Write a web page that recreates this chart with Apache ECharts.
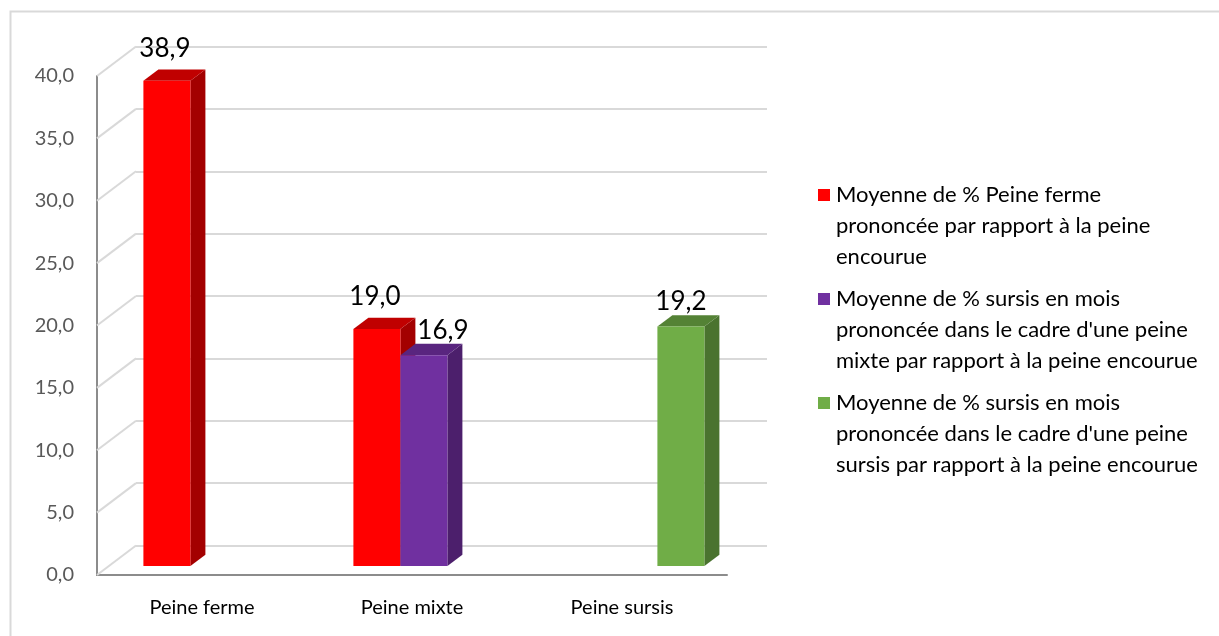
<!DOCTYPE html>
<html>
<head>
<meta charset="utf-8">
<script src="https://cdn.jsdelivr.net/npm/echarts@6/dist/echarts.min.js"></script>
<style>
html, body { margin: 0; padding: 0; background: #fff; }
#main { width: 1219px; height: 636px; }
</style>
</head>
<body>
<div id="main"></div>
<script>
// categories and values
var categories = ['Peine ferme', 'Peine mixte', 'Peine sursis'];
var seriesNames = [
    "Moyenne de % Peine ferme prononcée par rapport à la peine encourue",
    "Moyenne de % sursis en mois prononcée dans le cadre d'une peine mixte par rapport à la peine encourue",
    "Moyenne de % sursis en mois prononcée dans le cadre d'une peine sursis par rapport à la peine encourue"
];
// how the legend wraps each name
var legendLines = [
    ['Moyenne de % Peine ferme', 'prononcée par rapport à la peine', 'encourue'],
    ['Moyenne de % sursis en mois', "prononcée dans le cadre d'une peine", 'mixte par rapport à la peine encourue'],
    ['Moyenne de % sursis en mois', "prononcée dans le cadre d'une peine", 'sursis par rapport à la peine encourue']
];
var fermeValues = [38.9, 19.0, null];
var mixteValues = [null, 16.9, null];
var sursisValues = [null, null, 19.2];
var yTicks = [0, 5, 10, 15, 20, 25, 30, 35, 40];

var FONT = 'Lato, "Open Sans", sans-serif';
var DEPTH_DX = 39, DEPTH_DY = -29.5;   // front plane -> back wall
var FACE_DX = 11.9, FACE_DY = -9;      // front plane -> bar front faces
var SIDE_DX = 15, SIDE_DY = -11.3;     // bar thickness
var BAR_W = 47;
var palette = [
    { front: '#ff0000', side: '#a30000', top: '#c00000' },
    { front: '#7030a0', side: '#4c1f6c', top: '#59257f' },
    { front: '#70ad47', side: '#4a732f', top: '#548235' }
];
var labelDx = [-2, 19, 0];
var labelDy = [32, 25, 25];

function fmt(v) {
    return v.toFixed(1).replace('.', ',');
}

function toData(values) {
    var out = [];
    values.forEach(function (v, i) {
        if (v != null) out.push([i, v]);
    });
    return out;
}

function makeBarRender(si) {
    return function (params, api) {
        var cat = api.value(0);
        var val = api.value(1);
        var base = api.coord([cat, 0]);
        var top = api.coord([cat, val]);
        var x = base[0] - BAR_W * 1.5 + si * BAR_W + FACE_DX;
        var yb = base[1] + FACE_DY;
        var yt = top[1] + FACE_DY;
        var c = palette[si];
        return {
            type: 'group',
            children: [
                {
                    type: 'polygon',
                    shape: { points: [[x + BAR_W, yt], [x + BAR_W + SIDE_DX, yt + SIDE_DY], [x + BAR_W + SIDE_DX, yb + SIDE_DY], [x + BAR_W, yb]] },
                    style: { fill: c.side }
                },
                {
                    type: 'polygon',
                    shape: { points: [[x, yt], [x + SIDE_DX, yt + SIDE_DY], [x + BAR_W + SIDE_DX, yt + SIDE_DY], [x + BAR_W, yt]] },
                    style: { fill: c.top }
                },
                {
                    type: 'rect',
                    shape: { x: x, y: yt, width: BAR_W, height: yb - yt },
                    style: { fill: c.front }
                },
                {
                    type: 'text',
                    x: x + BAR_W / 2 + labelDx[si],
                    y: yt - labelDy[si],
                    style: {
                        text: fmt(val), fill: '#000', font: '26px ' + FONT,
                        align: 'center', verticalAlign: 'middle'
                    }
                }
            ]
        };
    };
}

var rich = {
    t: { fontFamily: FONT, fontSize: 22, color: '#000', lineHeight: 31 },
    g: { width: 6, height: 12 },
    i: { width: 18, height: 12 }
};
palette.forEach(function (c, k) {
    rich['m' + k] = { width: 12, height: 12, backgroundColor: c.front };
});

var myChart = echarts.init(document.getElementById('main'));

var option = {
    backgroundColor: '#fff',
    animation: false,
    graphic: [{
        type: 'rect',
        shape: { x: 10.5, y: 11.5, width: 1230, height: 650 },
        style: { fill: 'none', stroke: '#d9d9d9', lineWidth: 2 },
        silent: true
    }],
    legend: {
        orient: 'vertical',
        left: 808,
        top: 179,
        itemWidth: 0,
        itemHeight: 0,
        itemGap: 20,
        data: seriesNames,
        formatter: function (name) {
            var k = seriesNames.indexOf(name);
            return legendLines[k].map(function (line, j) {
                return (j === 0 ? '{m' + k + '|}{g|}' : '{i|}') + '{t|' + line + '}';
            }).join('\n');
        },
        textStyle: { rich: rich }
    },
    grid: [
        // front plane
        { left: 97, top: 76, width: 630, height: 499 },
        // back wall
        { left: 97 + DEPTH_DX, top: 76 + DEPTH_DY, width: 631, height: 499 }
    ],
    xAxis: [
        {
            gridIndex: 0, type: 'category', data: categories,
            axisLine: { lineStyle: { color: '#8c8c8c', width: 2 } },
            axisTick: { show: false },
            axisLabel: { color: '#000', fontFamily: FONT, fontSize: 20, margin: 23 }
        },
        {
            gridIndex: 1, type: 'category', data: categories, show: false
        }
    ],
    yAxis: [
        {
            gridIndex: 0, type: 'value', min: 0, max: 40, interval: 5,
            axisLine: { show: true, lineStyle: { color: '#8c8c8c', width: 2 } },
            axisTick: { show: false },
            splitLine: { show: false },
            axisLabel: {
                color: '#595959', fontFamily: FONT, fontSize: 20, margin: 23,
                formatter: function (v) { return fmt(v); }
            }
        },
        {
            gridIndex: 1, type: 'value', min: 0, max: 40, interval: 5,
            axisLine: { show: false },
            axisTick: { show: false },
            axisLabel: { show: false },
            splitLine: { lineStyle: { color: '#d9d9d9', width: 2 } }
        }
    ],
    series: [
        {
            // slanted lines on the left wall and floor
            type: 'custom',
            xAxisIndex: 0, yAxisIndex: 0,
            silent: true,
            z: 1,
            data: yTicks.map(function (v) { return [0, v]; }),
            renderItem: function (params, api) {
                var p = api.coord([0, api.value(1)]);
                var x0 = params.coordSys.x;
                return {
                    type: 'line',
                    shape: { x1: x0, y1: p[1], x2: x0 + DEPTH_DX, y2: p[1] + DEPTH_DY },
                    style: { stroke: '#d9d9d9', lineWidth: 2 }
                };
            }
        },
        {
            name: seriesNames[0], type: 'custom', z: 3,
            itemStyle: { color: palette[0].front },
            data: toData(fermeValues), renderItem: makeBarRender(0)
        },
        {
            name: seriesNames[1], type: 'custom', z: 3,
            itemStyle: { color: palette[1].front },
            data: toData(mixteValues), renderItem: makeBarRender(1)
        },
        {
            name: seriesNames[2], type: 'custom', z: 3,
            itemStyle: { color: palette[2].front },
            data: toData(sursisValues), renderItem: makeBarRender(2)
        }
    ]
};

option && myChart.setOption(option);
</script>
</body>
</html>
